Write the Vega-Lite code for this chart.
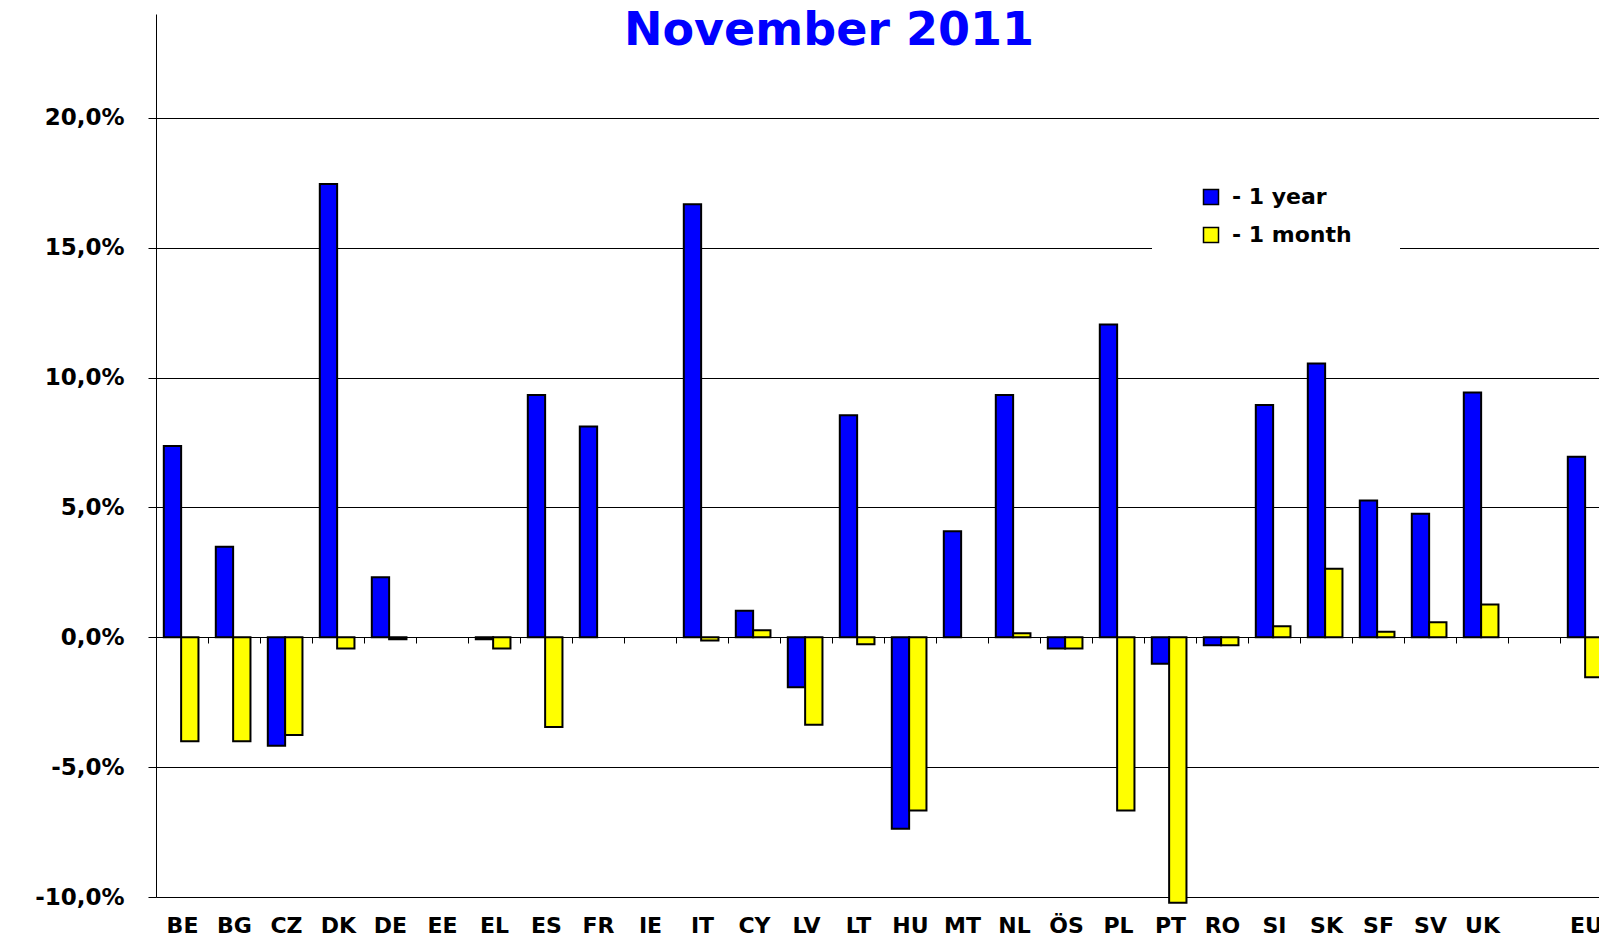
{
  "$schema": "https://vega.github.io/schema/vega-lite/v6.json",
  "width": 1443,
  "height": 883,
  "autosize": {"type": "none"},
  "padding": {"left": 156, "top": 14, "right": 0, "bottom": 39},
  "background": "white",
  "config": {"view": {"stroke": null}, "font": "DejaVu Sans"},
  "title": {"text": "November 2011", "color": "#0000FF", "fontSize": 46, "fontWeight": "bold", "font": "DejaVu Sans", "anchor": "start", "frame": "group", "dx": 468, "dy": 41, "offset": 0},
  "data": {"values": [
    {"country": "BE", "series": "- 1 year", "value": 7.37},
    {"country": "BE", "series": "- 1 month", "value": -4.0},
    {"country": "BG", "series": "- 1 year", "value": 3.49},
    {"country": "BG", "series": "- 1 month", "value": -4.0},
    {"country": "CZ", "series": "- 1 year", "value": -4.18},
    {"country": "CZ", "series": "- 1 month", "value": -3.76},
    {"country": "DK", "series": "- 1 year", "value": 17.45},
    {"country": "DK", "series": "- 1 month", "value": -0.43},
    {"country": "DE", "series": "- 1 year", "value": 2.31},
    {"country": "DE", "series": "- 1 month", "value": -0.08},
    {"country": "EL", "series": "- 1 year", "value": -0.08},
    {"country": "EL", "series": "- 1 month", "value": -0.43},
    {"country": "ES", "series": "- 1 year", "value": 9.33},
    {"country": "ES", "series": "- 1 month", "value": -3.45},
    {"country": "FR", "series": "- 1 year", "value": 8.12},
    {"country": "IT", "series": "- 1 year", "value": 16.67},
    {"country": "IT", "series": "- 1 month", "value": -0.12},
    {"country": "CY", "series": "- 1 year", "value": 1.02},
    {"country": "CY", "series": "- 1 month", "value": 0.27},
    {"country": "LV", "series": "- 1 year", "value": -1.92},
    {"country": "LV", "series": "- 1 month", "value": -3.37},
    {"country": "LT", "series": "- 1 year", "value": 8.55},
    {"country": "LT", "series": "- 1 month", "value": -0.27},
    {"country": "HU", "series": "- 1 year", "value": -7.37},
    {"country": "HU", "series": "- 1 month", "value": -6.67},
    {"country": "MT", "series": "- 1 year", "value": 4.08},
    {"country": "NL", "series": "- 1 year", "value": 9.33},
    {"country": "NL", "series": "- 1 month", "value": 0.16},
    {"country": "ÖS", "series": "- 1 year", "value": -0.43},
    {"country": "ÖS", "series": "- 1 month", "value": -0.43},
    {"country": "PL", "series": "- 1 year", "value": 12.04},
    {"country": "PL", "series": "- 1 month", "value": -6.67},
    {"country": "PT", "series": "- 1 year", "value": -1.02},
    {"country": "PT", "series": "- 1 month", "value": -10.22},
    {"country": "RO", "series": "- 1 year", "value": -0.31},
    {"country": "RO", "series": "- 1 month", "value": -0.31},
    {"country": "SI", "series": "- 1 year", "value": 8.94},
    {"country": "SI", "series": "- 1 month", "value": 0.43},
    {"country": "SK", "series": "- 1 year", "value": 10.54},
    {"country": "SK", "series": "- 1 month", "value": 2.64},
    {"country": "SF", "series": "- 1 year", "value": 5.27},
    {"country": "SF", "series": "- 1 month", "value": 0.21},
    {"country": "SV", "series": "- 1 year", "value": 4.76},
    {"country": "SV", "series": "- 1 month", "value": 0.58},
    {"country": "UK", "series": "- 1 year", "value": 9.43},
    {"country": "UK", "series": "- 1 month", "value": 1.26},
    {"country": "EU", "series": "- 1 year", "value": 6.95},
    {"country": "EU", "series": "- 1 month", "value": -1.54}
  ]},
  "mark": {"type": "bar", "stroke": "black", "strokeWidth": 2},
  "encoding": {
    "x": {
      "field": "country", "type": "nominal",
      "scale": {"domain": ["BE","BG","CZ","DK","DE","EE","EL","ES","FR","IE","IT","CY","LV","LT","HU","MT","NL","ÖS","PL","PT","RO","SI","SK","SF","SV","UK"," ","EU"], "range": [0, 1456], "paddingInner": 0, "paddingOuter": 0},
      "axis": {"title": null, "orient": "bottom", "offset": -260, "tickBand": "extent", "tickSize": 6, "tickColor": "black", "domainColor": "black", "domainWidth": 1, "labelPadding": 272, "labelFont": "DejaVu Sans", "labelFontSize": 22, "labelFontWeight": "bold", "labelColor": "black", "labelAngle": 0, "grid": false, "zindex": 1}
    },
    "xOffset": {
      "field": "series", "type": "nominal",
      "scale": {"domain": ["- 1 year", "- 1 month"], "paddingInner": 0, "paddingOuter": 0.5, "align": 0.45}
    },
    "y": {
      "field": "value", "type": "quantitative",
      "scale": {"domain": [-10, 24], "nice": false, "zero": false},
      "axis": {"title": null, "values": [-10, -5, 0, 5, 10, 15, 20], "grid": true, "gridColor": "black", "gridWidth": 1, "domainColor": "black", "tickColor": "black", "tickSize": 8, "labelExpr": "(datum.value < 0 ? '-' : '') + replace(format(abs(datum.value), '.1f'), '.', ',') + '%'", "labelFont": "DejaVu Sans", "labelFontSize": 23, "labelFontWeight": "bold", "labelColor": "black", "labelPadding": 24}
    },
    "color": {
      "field": "series", "type": "nominal",
      "scale": {"domain": ["- 1 year", "- 1 month"], "range": ["#0000FF", "#FFFF00"]},
      "legend": {"title": null, "orient": "none", "legendX": 996, "legendY": 124, "fillColor": "white", "padding": 48, "symbolType": "square", "symbolSize": 225, "symbolStrokeColor": "black", "symbolStrokeWidth": 1.5, "labelFont": "DejaVu Sans", "labelFontSize": 22, "labelFontWeight": "bold", "labelColor": "black", "labelOffset": 10, "rowPadding": 16}
    }
  }
}
